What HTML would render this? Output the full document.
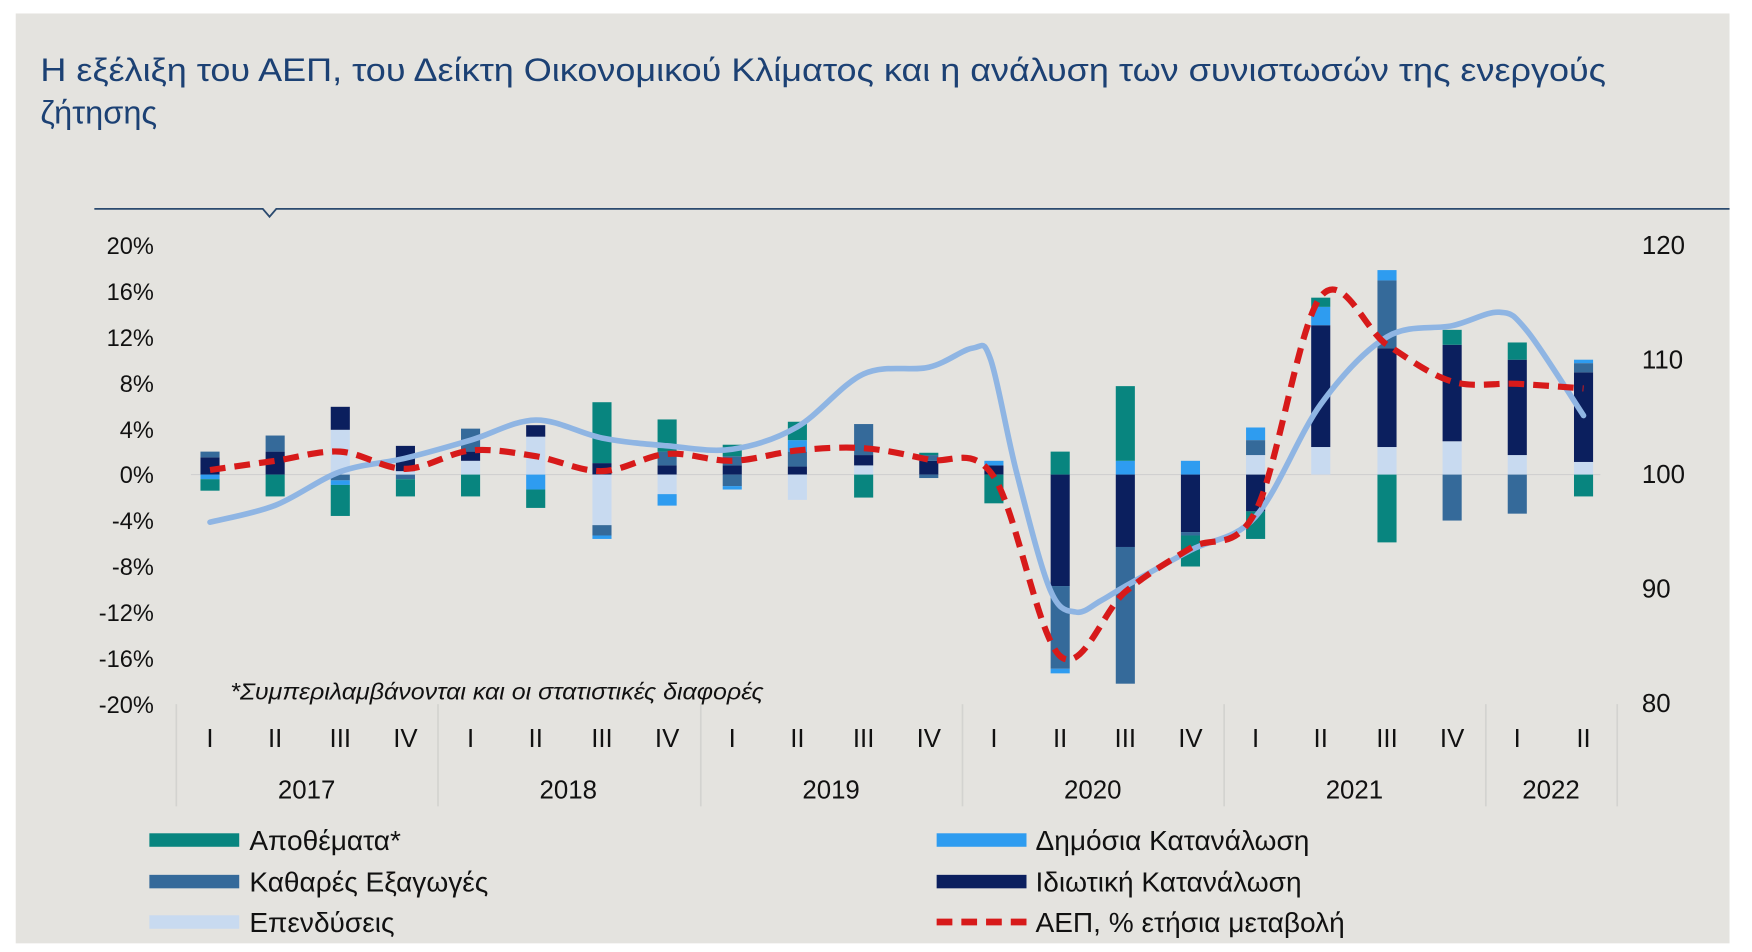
<!DOCTYPE html>
<html><head><meta charset="utf-8"><style>
html,body{margin:0;padding:0;background:#fff;}
svg{display:block;}
text{font-family:"Liberation Sans",sans-serif;}
</style></head><body>
<svg id="s" width="1752" height="952" viewBox="0 0 1560 847.7" preserveAspectRatio="none" xmlns="http://www.w3.org/2000/svg">
<rect x="14" y="12" width="1526" height="828" fill="#e4e3df"/>
<text x="36" y="72" font-size="29" fill="#1c4174" textLength="1394" lengthAdjust="spacingAndGlyphs">Η εξέλιξη του ΑΕΠ, του Δείκτη Οικονομικού Κλίματος και η ανάλυση των συνιστωσών της ενεργούς</text>
<text x="36" y="110" font-size="29" fill="#1c4174">ζήτησης</text>
<path d="M84 186 H234 L240 193 L246 186 H1540" stroke="#2b4a6f" stroke-width="1.6" fill="none"/>
<g font-size="21" fill="#111" text-anchor="end">
<text x="137" y="226">20%</text><text x="137" y="267">16%</text><text x="137" y="308">12%</text><text x="137" y="349">8%</text><text x="137" y="390">4%</text><text x="137" y="430">0%</text><text x="137" y="471">-4%</text><text x="137" y="512">-8%</text><text x="137" y="553">-12%</text><text x="137" y="594">-16%</text><text x="137" y="635">-20%</text>
</g>
<g font-size="23" fill="#111">
<text x="1462" y="226">120</text><text x="1462" y="328">110</text><text x="1462" y="430">100</text><text x="1462" y="532">90</text><text x="1462" y="634">80</text>
</g>
<line x1="170" y1="422.6" x2="1425" y2="422.6" stroke="#d0d0d0" stroke-width="1"/>
<g id="bars"></g>
<g id="lines"></g>
<text x="205" y="623" font-size="21" font-style="italic" fill="#111" textLength="475" lengthAdjust="spacingAndGlyphs">*Συμπεριλαμβάνονται και οι στατιστικές διαφορές</text>
<g stroke="#d3d3d0" stroke-width="1.5">
<line x1="157" y1="627" x2="157" y2="718"/><line x1="390" y1="627" x2="390" y2="718"/><line x1="624" y1="627" x2="624" y2="718"/><line x1="857" y1="627" x2="857" y2="718"/><line x1="1090" y1="627" x2="1090" y2="718"/><line x1="1323" y1="627" x2="1323" y2="718"/><line x1="1440" y1="627" x2="1440" y2="718"/>
</g>
<g font-size="23" fill="#111" text-anchor="middle">
<text x="187" y="665">I</text><text x="245" y="665">II</text><text x="303" y="665">III</text><text x="361" y="665">IV</text>
<text x="419" y="665">I</text><text x="477" y="665">II</text><text x="536" y="665">III</text><text x="594" y="665">IV</text>
<text x="652" y="665">I</text><text x="710" y="665">II</text><text x="769" y="665">III</text><text x="827" y="665">IV</text>
<text x="885" y="665">I</text><text x="944" y="665">II</text><text x="1002" y="665">III</text><text x="1060" y="665">IV</text>
<text x="1118" y="665">I</text><text x="1176" y="665">II</text><text x="1235" y="665">III</text><text x="1293" y="665">IV</text>
<text x="1351" y="665">I</text><text x="1410" y="665">II</text>
<text x="273" y="711">2017</text><text x="506" y="711">2018</text><text x="740" y="711">2019</text><text x="973" y="711">2020</text><text x="1206" y="711">2021</text><text x="1381" y="711">2022</text>
</g>
<g font-size="25" fill="#111">
<rect x="133" y="742" width="80" height="12" fill="#08857f"/><text x="222" y="757">Αποθέματα*</text>
<rect x="133" y="779" width="80" height="12" fill="#356a9a"/><text x="222" y="794">Καθαρές Εξαγωγές</text>
<rect x="133" y="815" width="80" height="12" fill="#c8daf0"/><text x="222" y="830">Επενδύσεις</text>
<rect x="834" y="742" width="80" height="12" fill="#2e9cf0"/><text x="922" y="757">Δημόσια Κατανάλωση</text>
<rect x="834" y="779" width="80" height="12" fill="#0b1f5e"/><text x="922" y="794">Ιδιωτική Κατανάλωση</text>
<line x1="834" y1="821" x2="914" y2="821" stroke="#d71a1a" stroke-width="6" stroke-dasharray="14 8"/><text x="922" y="830">ΑΕΠ, % ετήσια μεταβολή</text>
</g>
</svg>
<script>
var C={t:"#08857f",n:"#356a9a",p:"#2e9cf0",c:"#0b1f5e",i:"#c8daf0"};
var X=[187,245,303,361,419,477,536,594,652,710,769,827,885,944,1002,1060,1118,1176,1235,1293,1351,1410];
function Y(v){return 422.6-v*10.23;}
var D=[
[[["c",1.5],["n",0.5]],[["p",0.4],["t",1.0]]],
[[["c",2],["n",1.4]],[["t",1.9]]],
[[["i",3.9],["c",2]],[["n",0.5],["p",0.4],["t",2.7]]],
[[["i",0.3],["c",2.2]],[["n",0.4],["t",1.5]]],
[[["i",1.2],["c",0.8],["n",2]],[["t",1.9]]],
[[["i",3.3],["c",1]],[["p",1.3],["t",1.6]]],
[[["c",1],["t",5.3]],[["i",4.4],["n",0.9],["p",0.3]]],
[[["c",0.8],["n",1.2],["t",2.8]],[["i",1.7],["p",1]]],
[[["c",0.8],["n",0.8],["t",1]],[["n",1],["p",0.3]]],
[[["c",0.7],["n",1.3],["p",1],["t",1.6]],[["i",2.2]]],
[[["i",0.8],["c",0.9],["n",2.7]],[["t",2]]],
[[["c",1.2],["n",0.5],["t",0.2]],[["n",0.3]]],
[[["c",0.8],["p",0.4]],[["t",2.5]]],
[[["t",2]],[["c",9.7],["n",7.2],["p",0.4]]],
[[["p",1.2],["t",6.5]],[["c",6.3],["n",11.9]]],
[[["p",1.2]],[["c",5],["n",0.3],["t",2.7]]],
[[["i",1.7],["n",1.3],["p",1.1]],[["c",3.2],["t",2.4]]],
[[["i",2.4],["c",10.6],["p",1.6],["t",0.8]],[]],
[[["i",2.4],["c",8.6],["n",5.9],["p",0.9]],[["t",5.9]]],
[[["i",2.9],["c",8.4],["t",1.3]],[["n",4]]],
[[["i",1.7],["c",8.3],["t",1.5]],[["n",3.4]]],
[[["i",1.1],["c",7.8],["n",0.8],["p",0.3]],[["t",1.9]]]
];
var NS="http://www.w3.org/2000/svg",g=document.getElementById("bars");
function rect(x,y1,y2,f){var r=document.createElementNS(NS,"rect");r.setAttribute("x",x-8.5);r.setAttribute("width",17);r.setAttribute("y",Math.min(y1,y2));r.setAttribute("height",Math.abs(y2-y1));r.setAttribute("fill",f);g.appendChild(r);}
D.forEach(function(d,k){var a=0;d[0].forEach(function(s){rect(X[k],Y(a),Y(a+s[1]),C[s[0]]);a+=s[1];});a=0;d[1].forEach(function(s){rect(X[k],Y(-a),Y(-a-s[1]),C[s[0]]);a+=s[1];});});
function cr(P){var d="M"+P[0][0]+" "+P[0][1];for(var i=0;i<P.length-1;i++){var p0=P[i-1]||P[i],p1=P[i],p2=P[i+1],p3=P[i+2]||p2;var c1x=p1[0]+(p2[0]-p0[0])/6,c1y=p1[1]+(p2[1]-p0[1])/6,c2x=p2[0]-(p3[0]-p1[0])/6,c2y=p2[1]-(p3[1]-p1[1])/6;d+=" C"+c1x+" "+c1y+" "+c2x+" "+c2y+" "+p2[0]+" "+p2[1];}return d;}
var L=document.getElementById("lines");
var blue=[[187,465],[245,450],[303,420],[361,408],[419,392],[477,374],[536,390],[594,397],[652,400],[710,380],[769,333],[827,327],[866,310],[882,320],[905,420],[935,525],[958,545],[980,535],[1002,522],[1060,490],[1118,460],[1176,360],[1235,300],[1293,290],[1335,278],[1360,295],[1410,370]];
var red=[0.4,1.2,2,0.5,2.1,1.6,0.3,1.8,1.2,2.1,2.3,1.3,-0.2,-15.8,-10.2,-6.4,-3.2,15.5,11.3,8.1,7.9,7.5].map(function(v,k){return [X[k],Y(v)];});
var p1=document.createElementNS(NS,"path");p1.setAttribute("d",cr(blue));p1.setAttribute("stroke","#8fb5e3");p1.setAttribute("stroke-width","5");p1.setAttribute("fill","none");p1.setAttribute("stroke-linecap","round");L.appendChild(p1);
var p2=document.createElementNS(NS,"path");p2.setAttribute("d",cr(red));p2.setAttribute("stroke","#d71a1a");p2.setAttribute("stroke-width","5.5");p2.setAttribute("fill","none");p2.setAttribute("stroke-dasharray","14 8");L.appendChild(p2);
</script>
</body></html>
